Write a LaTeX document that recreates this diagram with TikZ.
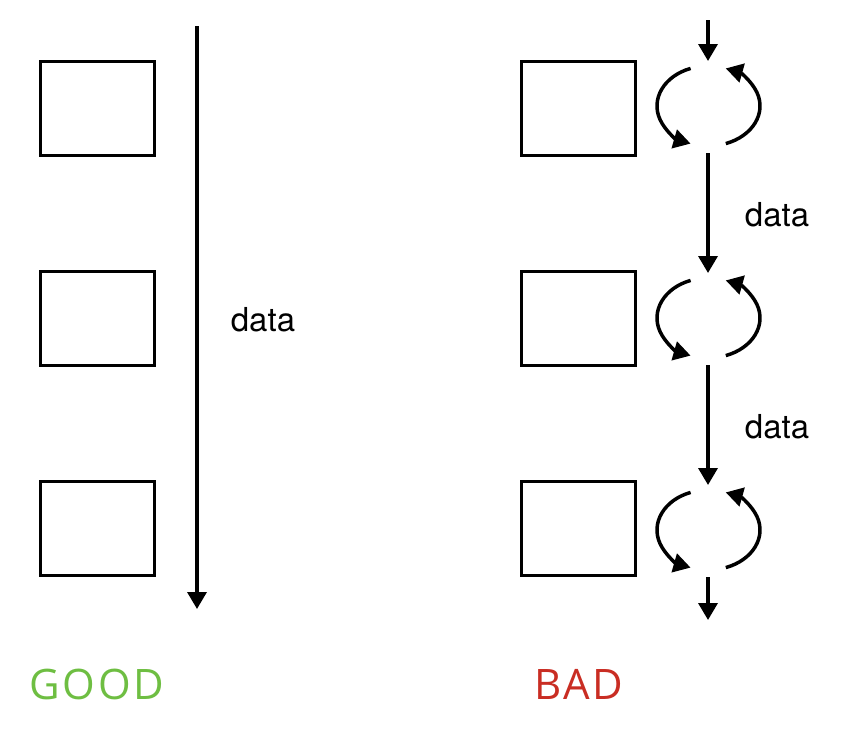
\documentclass[tikz,border=0pt]{standalone}
\usepackage{fontspec}
\setmainfont{TeX Gyre Heros}
\newfontfamily\tagfont[LetterSpace=6]{Open Sans}
\usepackage{tikz}
\usetikzlibrary{arrows.meta}
\definecolor{goodgreen}{RGB}{110,190,66}
\definecolor{badred}{RGB}{201,45,35}
\tikzset{
    normal/.style={draw, line width=3pt},
    stage/.style={style=normal, minimum width=114pt, minimum height=94pt, inner sep=0},
    e/.style={line width=3.5pt, -{Triangle[length=17pt, width=19pt]}},
    lbl/.style={font=\fontsize{33}{36}\selectfont},
    verdict/.style={font=\tagfont\fontsize{42}{46}\selectfont}
}

\begin{document}
\begin{tikzpicture}[x=1pt, y=1pt]
        \useasboundingbox (0, 0) rectangle (842, -736);

        % good: one stream through all stages
        \node[stage] (good1) at (97, -108) {};
        \node[stage] (good2) at (97, -318) {};
        \node[stage] (good3) at (97, -528) {};
        \coordinate (stream_in) at (197, -26);
        \coordinate (stream_out) at (197, -609);
        \draw[e] (stream_in) to (stream_out);
        \node[lbl] (stream_data) at (263, -320) {data};
        \node[verdict, text=goodgreen] (good) at (97, -684) {GOOD};

        % bad: every stage loops on its own
        \foreach \i/\y in {1/-108, 2/-318, 3/-528} {
          \node[stage] (bad\i) at (578, \y) {};
        }
        \foreach \i/\y in {1/-106, 2/-318, 3/-530} {
          \coordinate (loop\i) at (708, \y);
          \coordinate (loop\i_top) at ([shift={(0, 45)}]loop\i);
          \coordinate (loop\i_bottom) at ([shift={(0, -47)}]loop\i);
          \coordinate (loop\i_a) at ([shift={(110:51 and 40)}]loop\i);
          \coordinate (loop\i_c) at ([shift={(-70:52 and 40)}]loop\i);
          \draw[e] (loop\i_a) arc[start angle=110, end angle=250, x radius=51, y radius=40];
          \draw[e] (loop\i_c) arc[start angle=-70, end angle=70, x radius=52, y radius=40];
        }
        \coordinate (chain_in) at (708, -20);
        \coordinate (chain_out) at (708, -620);
        \draw[e] (chain_in) to (loop1_top);
        \draw[e] (loop1_bottom) to (loop2_top);
        \draw[e] (loop2_bottom) to (loop3_top);
        \draw[e] (loop3_bottom) to (chain_out);
        \node[lbl] (chain_data1) at (777, -215) {data};
        \node[lbl] (chain_data2) at (777, -427) {data};
        \node[verdict, text=badred] (bad) at (579, -684) {BAD};
      \end{tikzpicture}
\end{document}
